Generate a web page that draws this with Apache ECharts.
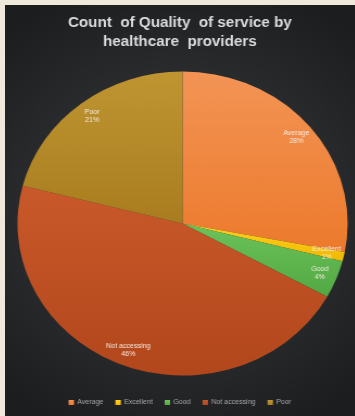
<!DOCTYPE html>
<html>
<head>
<meta charset="utf-8">
<script src="https://cdn.jsdelivr.net/npm/echarts@6/dist/echarts.min.js"></script>
<style>
  html, body { margin: 0; padding: 0; background: #1d1e20; overflow: hidden; }
  body { width: 355px; height: 416px; position: relative; }
  .edge { position: absolute; background: #efe9dc; z-index: 2; }
  #edgeTop { left: 0; top: 0; width: 355px; height: 5px; }
  #edgeLeft { left: 0; top: 0; width: 5px; height: 416px; }
  /* the chart panel is stretched horizontally, so the pie reads as a wide ellipse */
  #chart {
    position: absolute; left: 5px; top: 5px;
    width: 322px; height: 411px;
    transform: scaleX(1.086); transform-origin: 0 0;
  }
</style>
</head>
<body>
<div id="chart"></div>
<div class="edge" id="edgeTop"></div>
<div class="edge" id="edgeLeft"></div>
<script>
// Survey results: quality of service rating counts
const categories = ['Average', 'Excellent', 'Good', 'Not accessing', 'Poor'];
const counts = [28, 1, 4, 46, 21];
const sliceColors = [
  ['#f39455', '#ec7a2c'],
  ['#ffd21f', '#f0b800'],
  ['#6cc35a', '#52a843'],
  ['#c9592a', '#b2471c'],
  ['#bf9532', '#a97d1f']
];

const chart = echarts.init(document.getElementById('chart'), null, { renderer: 'canvas' });

const pieCenter = [163.5, 218.5];
const pieRadius = 152;

const grad = (c) => ({
  type: 'linear', x: 0, y: 0, x2: 0, y2: 1,
  colorStops: [{ offset: 0, color: c[0] }, { offset: 1, color: c[1] }]
});

chart.setOption({
  backgroundColor: {
    type: 'radial', x: 0.5, y: 0.5, r: 0.75,
    colorStops: [
      { offset: 0, color: '#3c3d40' },
      { offset: 1, color: '#1c1d1f' }
    ]
  },
  title: {
    text: 'Count  of Quality  of service by\nhealthcare  providers',
    left: 'center',
    top: 4,
    textStyle: {
      color: '#dcdcdc',
      fontFamily: 'Liberation Sans, Arial, sans-serif',
      fontWeight: 'bold',
      fontSize: 14,
      lineHeight: 19
    }
  },
  legend: {
    bottom: 5,
    left: 'center',
    itemWidth: 5,
    itemHeight: 5,
    itemGap: 11,
    icon: 'rect',
    textStyle: {
      color: '#a8a8a8',
      fontFamily: 'Liberation Sans, Arial, sans-serif',
      fontSize: 6.5,
      padding: [0, 0, 0, -2]
    },
    data: categories
  },
  series: [{
    type: 'pie',
    center: pieCenter,
    radius: [0, pieRadius],
    startAngle: 90,
    clockwise: true,
    percentPrecision: 0,
    animation: false,
    avoidLabelOverlap: false,
    data: categories.map((name, i) => ({
      name: name,
      value: counts[i],
      itemStyle: { color: grad(sliceColors[i]) }
    })),
    itemStyle: { borderWidth: 0 },
    label: {
      position: 'inside',
      formatter: '{b}\n{d}%',
      color: '#f3eadf',
      fontFamily: 'Liberation Sans, Arial, sans-serif',
      fontSize: 6.5,
      lineHeight: 8
    },
    labelLine: { show: false },
    // push the inside labels out towards the rim of each slice
    labelLayout: function (p) {
      const r = p.labelRect;
      const lx = r.x + r.width / 2;
      const ly = r.y + r.height / 2;
      const k = 0.72;
      return { dx: (lx - pieCenter[0]) * k, dy: (ly - pieCenter[1]) * k };
    },
    emphasis: { disabled: true }
  }]
});
</script>
</body>
</html>
